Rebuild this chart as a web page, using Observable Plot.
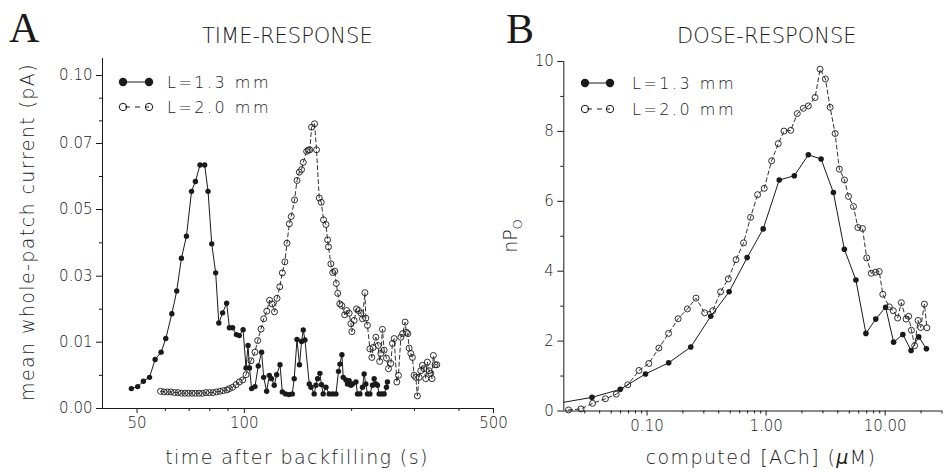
<!DOCTYPE html>
<html><head><meta charset="utf-8">
<script src="https://cdn.jsdelivr.net/npm/d3@7"></script>
<script src="https://cdn.jsdelivr.net/npm/@observablehq/plot@0.6"></script>
<style>
body{margin:0;background:#fff;}
#fig{position:relative;width:946px;height:472px;overflow:hidden;background:#fff;font-family:"DejaVu Sans",sans-serif;}
#fig svg{position:absolute;top:0;}
#fig text{font-weight:300;}
#fig tspan.mu{font-weight:400;font-style:italic;}
</style></head><body><div id="fig"></div>
<script>
// ---------- Panel A: time-response (time s, mean current pA) ----------
const timeRespL13 = [
[48.2,0.0030],[50.2,0.0033],[52.1,0.0041],[54.2,0.0047],[56.2,0.0074],[58.4,0.0085],[60.2,0.0111],[62.6,0.0186],
[64.6,0.0255],[66.6,0.0354],[68.8,0.0420],[71.1,0.0555],[72.9,0.0585],[75.1,0.0635],[77.4,0.0635],[79.1,0.0555],
[81.0,0.0397],[83.1,0.0310],[84.8,0.0158],[86.9,0.0189],[89.2,0.0218],[90.8,0.0144],[92.7,0.0144],[95.0,0.0123],
[96.8,0.0120],[99.2,0.0138],[101.1,0.0061],[102.4,0.0095],[103.4,0.0061],[104.8,0.0030],[107.1,0.0033],[109.4,0.0064],
[111.8,0.0085],[113.3,0.0047],[115.5,0.0026],[117.5,0.0050],[119.2,0.0045],[121.3,0.0035],[123.2,0.0051],[125.9,0.0066],
[127.8,0.0025],[130.5,0.0022],[133.4,0.0021],[136.3,0.0022],[138.0,0.0045],[140.5,0.0108],[142.8,0.0066],[144.7,0.0102],
[146.3,0.0137],[147.9,0.0107],[152.1,0.0037],[153.8,0.0032],[157.0,0.0022],[158.8,0.0035],[160.5,0.0045],[162.9,0.0053],
[164.6,0.0036],[166.4,0.0022],[169.4,0.0032],[173.0,0.0022],[176.8,0.0022],[180.7,0.0022],[183.7,0.0056],[185.4,0.0067],
[187.8,0.0081],[189.4,0.0047],[192.7,0.0043],[194.7,0.0037],[196.8,0.0042],[199.0,0.0035],[201.1,0.0037],[205.6,0.0040],
[207.7,0.0022],[210.9,0.0022],[214.5,0.0032],[216.8,0.0052],[219.2,0.0037],[221.5,0.0022],[225.0,0.0022],[228.8,0.0035],
[231.3,0.0045],[233.9,0.0037],[236.3,0.0035],[238.9,0.0022],[243.1,0.0022],[246.7,0.0022],[250.4,0.0032],[252.0,0.0040]
];
const timeRespL20 = [
[58.2,0.0026],[59.5,0.0025],[60.9,0.0025],[62.2,0.0025],[63.7,0.0024],[65.1,0.0024],[66.6,0.0023],[68.1,0.0023],
[69.7,0.0023],[71.3,0.0023],[72.9,0.0023],[74.6,0.0023],[76.3,0.0023],[78.0,0.0024],[79.8,0.0024],[81.6,0.0024],
[83.5,0.0025],[85.4,0.0026],[87.3,0.0027],[89.3,0.0028],[90.8,0.0030],[92.7,0.0032],[94.8,0.0036],[96.8,0.0040],
[98.9,0.0043],[101.1,0.0051],[104.4,0.0072],[107.1,0.0085],[109.0,0.0105],[111.4,0.0140],[113.3,0.0171],[115.6,0.0194],
[117.7,0.0227],[119.6,0.0216],[121.5,0.0192],[123.5,0.0233],[125.7,0.0268],[127.8,0.0310],[129.9,0.0343],[131.7,0.0399],
[133.7,0.0457],[135.4,0.0479],[138.3,0.0529],[140.5,0.0588],[142.6,0.0613],[144.7,0.0621],[146.3,0.0643],[149.5,0.0676],
[151.1,0.0680],[152.6,0.0681],[154.4,0.0772],[157.4,0.0787],[159.4,0.0681],[162.2,0.0535],[164.3,0.0522],[166.8,0.0469],
[169.4,0.0455],[171.2,0.0409],[172.2,0.0388],[174.9,0.0337],[177.0,0.0311],[179.3,0.0315],[181.1,0.0278],[182.8,0.0248],
[185.2,0.0216],[187.6,0.0211],[191.2,0.0183],[193.7,0.0196],[196.8,0.0188],[199.0,0.0156],[200.3,0.0132],[203.3,0.0166],
[206.4,0.0201],[209.1,0.0196],[212.3,0.0188],[214.5,0.0171],[217.9,0.0250],[219.2,0.0173],[221.5,0.0151],[225.0,0.0090],
[227.9,0.0077],[229.8,0.0092],[233.9,0.0115],[237.4,0.0095],[239.7,0.0071],[241.5,0.0083],[244.0,0.0139],[246.7,0.0088],
[250.4,0.0076],[253.7,0.0060],[257.6,0.0068],[260.3,0.0098],[263.2,0.0111],[267.8,0.0040],[270.6,0.0050],[274.8,0.0115],
[278.0,0.0126],[282.5,0.0161],[284.9,0.0130],[287.4,0.0126],[289.9,0.0091],[293.1,0.0083],[296.1,0.0077],[299.4,0.0050],
[302.7,0.0047],[305.8,0.0019],[309.2,0.0047],[312.6,0.0057],[315.8,0.0065],[319.3,0.0060],[322.8,0.0045],[326.2,0.0070],
[329.8,0.0057],[333.4,0.0053],[336.2,0.0045],[339.0,0.0080],[342.8,0.0066],[346.6,0.0066]
];
const ticksAx = [50, 100, 500];
const minorAx = [60, 70, 80, 90, 200, 300, 400];
const ticksAy = [0, 0.01, 0.03, 0.05, 0.07, 0.10];
const minorAy = [0.005, 0.02, 0.04, 0.06, 0.08, 0.09];

// ---------- Panel B: dose-response ([ACh] uM, nPo) ----------
const doseRespL13 = [
[0.02,0.25],[0.0345,0.39],[0.0596,0.62],[0.0971,1.06],[0.152,1.38],[0.233,1.83],[0.343,2.71],[0.489,3.41],
[0.693,4.39],[0.945,5.21],[1.289,6.61],[1.725,6.73],[2.263,7.33],[2.895,7.21],[3.675,6.25],[4.54,4.63],
[5.675,3.75],[6.891,2.22],[8.334,2.63],[10.08,2.97],[11.77,1.97],[14.07,2.19],[16.5,1.73],[19.12,2.12],[22.19,1.78]
];
const doseRespL20 = [
[0.0219,0.03],[0.0279,0.06],[0.0349,0.22],[0.0447,0.35],[0.0551,0.48],[0.0689,0.75],[0.0856,1.16],[0.1036,1.36],
[0.1257,1.80],[0.1517,2.22],[0.1825,2.64],[0.2182,2.92],[0.2577,3.23],[0.305,2.81],[0.3563,2.87],[0.4145,3.41],
[0.4813,3.78],[0.5588,4.33],[0.6463,4.81],[0.7403,5.54],[0.8481,6.19],[0.9638,6.37],[1.113,7.16],[1.265,7.65],
[1.413,8.01],[1.609,8.03],[1.828,8.51],[2.054,8.66],[2.263,8.73],[2.577,8.97],[2.84,9.78],[3.148,9.50],
[3.448,8.69],[3.798,7.94],[4.121,6.92],[4.55,6.61],[4.918,6.14],[5.418,5.85],[5.901,5.25],[6.452,5.22],
[6.998,4.38],[7.636,3.94],[8.301,3.97],[8.918,3.99],[9.546,3.34],[10.83,2.98],[11.70,2.87],[12.72,2.66],
[13.66,3.10],[14.97,2.63],[15.74,2.71],[16.60,2.31],[17.69,1.87],[18.89,2.59],[19.87,2.39],[21.35,3.06],[22.41,2.38]
];
const ticksBx = [0.1, 1, 10];
const minorBx = [0.03,0.04,0.05,0.06,0.07,0.08,0.09,0.2,0.3,0.4,0.5,0.6,0.7,0.8,0.9,2,3,4,5,6,7,8,9,20,30];
const ticksBy = [0, 2, 4, 6, 8, 10];
const minorBy = [1, 3, 5, 7, 9];

const ink = "#1a1a1a";
const toObj = a => a.map(([x, y]) => ({x, y}));
const A1 = toObj(timeRespL13), A2 = toObj(timeRespL20);
const B1 = toObj(doseRespL13), B2 = toObj(doseRespL20);

const style = {fontFamily: "DejaVu Sans, sans-serif", fontSize: "15px", color: ink, background: "transparent", overflow: "visible"};

const plotA = Plot.plot({
  width: 500, height: 472, style,
  marginLeft: 102, marginRight: 7, marginTop: 58, marginBottom: 64,
  x: {type: "log", domain: [40, 500], range: [102, 493]},
  y: {type: "linear", domain: [0, 0.01, 0.03, 0.05, 0.07, 0.10, 0.1075], range: [408, 341.7, 275.7, 209, 143, 75, 58]},
  marks: [
    Plot.ruleX([40], {y1: 0, y2: 0.1075, stroke: ink}),
    Plot.ruleY([0], {x1: 40, x2: 500, stroke: ink}),
    Plot.axisY({ticks: ticksAy, tickSize: 6, tickPadding: 4, tickFormat: d => d.toFixed(2), label: null, stroke: ink}),
    Plot.axisY({ticks: minorAy, tickSize: 3, tickFormat: () => "", label: null, stroke: ink}),
    Plot.axisX({ticks: ticksAx, tickSize: 5, tickPadding: 4, tickFormat: d => String(d), label: null, stroke: ink}),
    Plot.axisX({ticks: minorAx, tickSize: 3, tickFormat: () => "", label: null, stroke: ink}),
    Plot.line(A2, {x: "x", y: "y", stroke: ink, strokeWidth: 0.9, strokeDasharray: "4,3"}),
    Plot.dot(A2, {x: "x", y: "y", r: 3, stroke: ink, strokeWidth: 0.9, fill: "none"}),
    Plot.line(A1, {x: "x", y: "y", stroke: ink, strokeWidth: 1}),
    Plot.dot(A1, {x: "x", y: "y", r: 2.7, fill: ink, stroke: "none"})
  ]
});

const plotB = Plot.plot({
  width: 446, height: 472, style,
  marginLeft: 63.3, marginRight: 4.5, marginTop: 61, marginBottom: 61.5,
  x: {type: "log", domain: [0.02, 30], range: [63.3, 441.5]},
  y: {type: "linear", domain: [0, 10], range: [410.5, 61]},
  marks: [
    Plot.ruleX([0.02], {y1: 0, y2: 10, stroke: ink}),
    Plot.ruleY([0], {x1: 0.02, x2: 30, stroke: ink}),
    Plot.axisY({ticks: ticksBy, tickSize: 6, tickPadding: 4, tickFormat: d => String(d), label: null, stroke: ink}),
    Plot.axisY({ticks: minorBy, tickSize: 3, tickFormat: () => "", label: null, stroke: ink}),
    Plot.axisX({ticks: ticksBx, tickSize: 5, tickPadding: 4, tickFormat: d => d.toFixed(2), label: null, stroke: ink}),
    Plot.axisX({ticks: minorBx, tickSize: 3, tickFormat: () => "", label: null, stroke: ink}),
    Plot.line(B2, {x: "x", y: "y", stroke: ink, strokeWidth: 0.9, strokeDasharray: "4,3"}),
    Plot.dot(B2, {x: "x", y: "y", r: 3, stroke: ink, strokeWidth: 0.9, fill: "none"}),
    Plot.line(B1, {x: "x", y: "y", stroke: ink, strokeWidth: 1}),
    Plot.dot(B1.slice(1), {x: "x", y: "y", r: 2.8, fill: ink, stroke: "none"})
  ]
});

const fig = document.getElementById("fig");
plotA.style.left = "0px";
plotB.style.left = "500px";
fig.appendChild(plotA);
fig.appendChild(plotB);

// ---------- overlay: titles, axis labels, legends ----------
const ov = d3.select(fig).append("svg")
  .attr("width", 946).attr("height", 472)
  .style("left", "0px").style("pointer-events", "none")
  .attr("font-family", "DejaVu Sans, sans-serif").attr("fill", ink);

ov.append("text").attr("x", 9).attr("y", 42).attr("font-family", "Liberation Serif, serif").attr("font-size", 42).text("A");
ov.append("text").attr("x", 506).attr("y", 43).attr("font-family", "Liberation Serif, serif").attr("font-size", 42).text("B");
ov.append("text").attr("x", 202).attr("y", 43).attr("font-size", 21).text("TIME-RESPONSE");
ov.append("text").attr("x", 677).attr("y", 43).attr("font-size", 21).text("DOSE-RESPONSE");

ov.append("text").attr("transform", "translate(34,232) rotate(-90)").attr("text-anchor", "middle")
  .attr("font-size", 19).attr("letter-spacing", 1.4).text("mean whole-patch current (pA)");
ov.append("text").attr("x", 297).attr("y", 464).attr("text-anchor", "middle")
  .attr("font-size", 19).attr("letter-spacing", 1.4).text("time after backfilling (s)");
const cl = ov.append("text").attr("x", 761).attr("y", 464).attr("text-anchor", "middle")
  .attr("font-size", 19).attr("letter-spacing", 1.4);
cl.append("tspan").text("computed [ACh] (");
cl.append("tspan").attr("class", "mu").text("μ");
cl.append("tspan").text("M)");
const nl = ov.append("text").attr("transform", "translate(517,236) rotate(-90)").attr("text-anchor", "middle")
  .attr("font-size", 19);
nl.append("tspan").text("nP");
nl.append("tspan").attr("font-size", 13).attr("dy", 5).text("O");

function legend(x0, x1, xt, y1, y2) {
  ov.append("line").attr("x1", x0).attr("x2", x1).attr("y1", y1).attr("y2", y1).attr("stroke", ink);
  ov.append("circle").attr("cx", x0).attr("cy", y1).attr("r", 4.2).attr("fill", ink);
  ov.append("circle").attr("cx", x1).attr("cy", y1).attr("r", 4.2).attr("fill", ink);
  ov.append("line").attr("x1", x0).attr("x2", x1).attr("y1", y2).attr("y2", y2).attr("stroke", ink)
    .attr("stroke-dasharray", "5,5").attr("stroke-dashoffset", -2);
  ov.append("circle").attr("cx", x0).attr("cy", y2).attr("r", 3.7).attr("fill", "none").attr("stroke", ink);
  ov.append("circle").attr("cx", x1).attr("cy", y2).attr("r", 3.7).attr("fill", "none").attr("stroke", ink);
  ov.append("text").attr("x", xt).attr("y", y1).attr("dy", "0.36em").attr("font-size", 16).attr("letter-spacing", 2.5).text("L=1.3 mm");
  ov.append("text").attr("x", xt).attr("y", y2).attr("dy", "0.36em").attr("font-size", 16).attr("letter-spacing", 2.5).text("L=2.0 mm");
}
legend(123, 149, 167, 82, 107);
legend(585, 610, 632, 83, 109);
</script>
</body></html>
